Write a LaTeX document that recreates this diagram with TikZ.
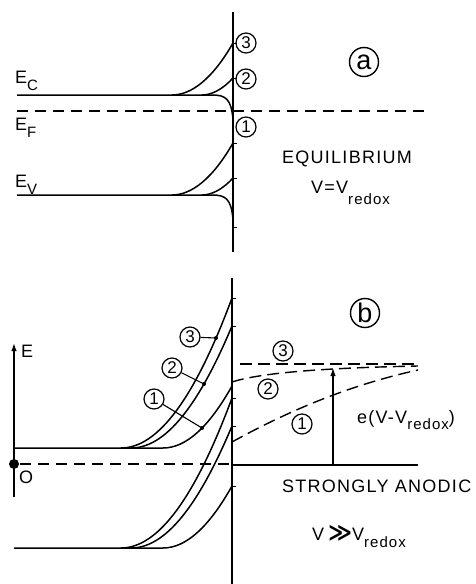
\documentclass[tikz,border=0pt]{standalone}
\usepackage{fontspec}
\setmainfont{Liberation Sans}[LetterSpace=7]
\newfontfamily\symfont{DejaVu Sans}
\usetikzlibrary{arrows.meta}
\newcommand{\lowsub}[2][7pt]{\raisebox{-#1}{\fontsize{15}{15}\selectfont #2}}

\begin{document}
\begin{tikzpicture}[x=1pt,y=-1pt,>={Latex[length=8pt,width=5.5pt]},
  every node/.style={font=\fontsize{18}{18}\selectfont},
  band/.style={line width=1.5pt},
  lvl/.style={line width=1.4pt,dash pattern=on 11pt off 7pt},
  num/.style={circle,draw,line width=1.2pt,inner sep=0pt,minimum size=20pt,font=\fontsize{17}{17}\selectfont},
  panel/.style={circle,draw,line width=1.4pt,inner sep=0pt,minimum size=29pt,font=\fontsize{27}{27}\selectfont},
  lbl/.style={anchor=base west,inner sep=0pt}]
\useasboundingbox (0,0) rectangle (475,584);

% (a) equilibrium
\draw[band] (233,12) -- (233,252);
\draw[lvl] (17,111) -- (430,111);
\foreach \y in {95,195} {
  \draw[band] (17,\y) -- (212,\y) .. controls (226,\y) and (231,\y+4) .. (233,\y+24);
  \draw[band] (202,\y) .. controls (212,\y) and (223,\y-6) .. (233,\y-17);
  \draw[band] (172,\y) .. controls (192,\y) and (213,\y-17) .. (233,\y-52);
}
\foreach \t in {43,78,143,178,227}
  \draw[line width=0.9pt] (233,\t) -- ++(4,0);
\node[lbl] (ec) at (15,83) {E\lowsub{C}};
\node[lbl] (ef) at (15,130) {E\lowsub{F}};
\node[lbl] (ev) at (15,187) {E\lowsub{V}};
\node[num] (a3) at (246,43) {3};
\node[num] (a2) at (246,79) {2};
\node[num] (a1) at (246,127) {1};
\node[panel] (pa) at (364,62) {a};
\node[anchor=base] (eq) at (347,163) {EQUILIBRIUM};
\node[lbl] (va) at (311,193) {V=V\lowsub[11pt]{redox}};

% (b) strongly anodic
\draw[band] (232,278) -- (232,584);
\coordinate (o) at (14,464);
\coordinate (etip) at (14,343);
\draw[band,->] (14,497) -- (etip);
\fill (o) circle (5pt);
\node[lbl] (elab) at (21,357) {E};
\node[lbl] (olab) at (19,483) {O};
\draw[lvl] (20,464) -- (232,464);
\draw[band] (232,465) -- (418,465);
\foreach \y in {448,548} {
  \draw[band] (14,\y) -- (163,\y) .. controls (186,\y) and (209,\y-21) .. (232,\y-62);
  \draw[band] (131,\y) .. controls (165,\y) and (198,\y-41) .. (232,\y-122);
  \draw[band] (121,\y) .. controls (158,\y) and (195,\y-50) .. (232,\y-150);
}
\foreach \t in {298,326,398,426,486}
  \draw[line width=0.9pt] (232,\t) -- ++(4,0);
\coordinate (p3) at (216,338);
\coordinate (p2) at (204,384);
\coordinate (p1) at (202,428);
\node[num] (b3) at (190,337) {3};
\node[num] (b2) at (172,368) {2};
\node[num] (b1) at (154,399) {1};
\foreach \i in {1,2,3} {
  \draw[line width=1.1pt] (b\i) -- (p\i);
  \fill (p\i) circle (2pt);
}
\draw[lvl,dash pattern=on 12pt off 6pt] (240,364) -- (418,364);
\draw[lvl,dash pattern=on 12pt off 6pt] (232,382) .. controls (260,373) and (320,368) .. (418,366);
\draw[lvl,dash pattern=on 12pt off 6pt] (232,442) .. controls (290,410) and (350,385) .. (418,370);
\coordinate (ebot) at (333,465);
\coordinate (etop) at (333,368);
\draw[->,line width=1.1pt] (ebot) -- (etop);
\node[num] (r3) at (283,351) {3};
\node[num] (r2) at (268,389) {2};
\node[num] (r1) at (302,424) {1};
\node[panel] (pb) at (365,313) {b};
\node[lbl] (shift) at (357,423) {e(V-V\lowsub[6pt]{redox})};
\node[lbl] (anod) at (282,492) {STRONGLY ANODIC};
\node[lbl] (vb) at (312,540) {V{\symfont\fontsize{23}{23}\selectfont\bfseries\,≫}V\lowsub{redox}};
\end{tikzpicture}
\end{document}
